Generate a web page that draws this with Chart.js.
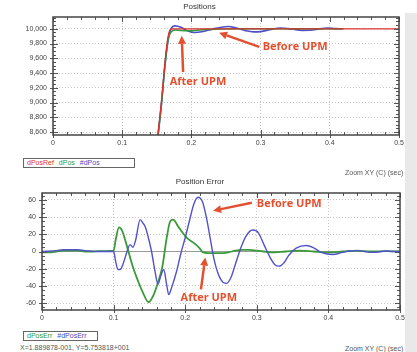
<!DOCTYPE html>
<html>
<head>
<meta charset="utf-8">
<script src="https://cdn.jsdelivr.net/npm/chart.js@4/dist/chart.umd.min.js"></script>
<style>
  html, body { margin: 0; padding: 0; background: #fff; }
  body { width: 417px; height: 352px; position: relative; overflow: hidden; font-family: "Liberation Sans", Arial, sans-serif; }
  .box { position: absolute; }
  .band { position: absolute; left: 405px; top: 13px; width: 12px; height: 339px; background: #e9e9e9; }
  .legend { position: absolute; border: 1px solid #666; background: #fff; font-size: 7px; line-height: 8px; white-space: nowrap; padding-left: 3px; box-sizing: border-box; }
  .legend span { margin-right: 5px; }
  .small { position: absolute; font-size: 7px; color: #555; white-space: nowrap; }
</style>
</head>
<body>
<div class="band"></div>
<div class="box" style="left:0;top:0;width:417px;height:152px"><canvas id="posChart"></canvas></div>
<div class="box" style="left:0;top:172px;width:417px;height:155px"><canvas id="errChart"></canvas></div>

<div class="legend" style="left:23px;top:158px;width:112px;height:10px">
  <span style="color:#d83030">dPosRef</span><span style="color:#2f9a3a">dPos</span><span style="color:#4848c0">#dPos</span>
</div>
<div class="small" style="left:345px;top:169px">Zoom XY (C) (sec)</div>
<div class="legend" style="left:23px;top:331px;width:75px;height:10px">
  <span style="color:#2f9a3a">dPosErr</span><span style="color:#4848c0">#dPosErr</span>
</div>
<div class="small" style="left:20px;top:344px">X=1.889878-001, Y=5.753818+001</div>
<div class="small" style="left:345px;top:345px">Zoom XY (C) (sec)</div>

<script>
// ---- Positions (top chart) ----
const posTimeRef = [0.13, 0.145, 0.152, 0.156, 0.159, 0.162, 0.165, 0.168, 0.171, 0.5];
const posRef = [6500, 7950, 8600, 8950, 9250, 9560, 9820, 9960, 10000, 10000];

const posTimeAfter = [0.13, 0.145, 0.152, 0.157, 0.162, 0.167, 0.171, 0.176, 0.185, 0.195, 0.205, 0.22, 0.24, 0.27, 0.42];
const posAfter = [6450, 7920, 8570, 9010, 9530, 9880, 9960, 9985, 9978, 9975, 9978, 9990, 9996, 10000, 10000];

const posTimeBefore = [0.13, 0.145, 0.152, 0.157, 0.162, 0.167, 0.171, 0.176, 0.185, 0.195, 0.205, 0.215, 0.23, 0.245,
  0.253, 0.265, 0.278, 0.29, 0.3, 0.315, 0.328, 0.345, 0.36, 0.372, 0.385, 0.396, 0.408, 0.418];
const posBefore = [6450, 7900, 8560, 9000, 9520, 9880, 10010, 10040, 10020, 9970, 9950, 9960, 9995, 10025,
  10031, 10010, 9975, 9958, 9962, 9990, 10010, 9998, 9978, 9980, 9998, 10010, 10003, 10000];

const posXTicks = [0, 0.1, 0.2, 0.3, 0.4, 0.5];
const posYTicks = [8600, 8800, 9000, 9200, 9400, 9600, 9800, 10000];

// ---- Position Error (bottom chart) ----
const errTimeAfter = [0, 0.01, 0.02, 0.03, 0.04, 0.05, 0.06, 0.07, 0.08, 0.09, 0.1, 0.103, 0.1075, 0.112, 0.118,
  0.127, 0.134, 0.14, 0.149, 0.155, 0.162, 0.168, 0.174, 0.179, 0.183, 0.191, 0.202, 0.212, 0.22, 0.225,
  0.24, 0.25, 0.26, 0.27, 0.28, 0.29, 0.3, 0.31, 0.32, 0.34, 0.36, 0.38, 0.4, 0.42, 0.44, 0.46, 0.48, 0.5];
const errAfter = [-1, -1, 0, 1, 1, 1, 0, 0, 0.5, 0.5, 1, 14, 28, 24, 8,
  -18, -34, -46, -59, -52, -36, -18, 15, 35, 37, 28, 16, 10, 4, -1,
  -2, -2, -1, 1, 2, 2, 1, 0, -1, 0, 1, 0, -1, 0, 1, 0, 0.5, 0];

const errTimeBefore = [0, 0.02, 0.03, 0.04, 0.05, 0.06, 0.08, 0.1, 0.103, 0.106, 0.109, 0.113, 0.118, 0.123, 0.127,
  0.131, 0.137, 0.141, 0.144, 0.148, 0.153, 0.158, 0.162, 0.166, 0.17, 0.174, 0.177, 0.181, 0.188, 0.194,
  0.2, 0.206, 0.212, 0.218, 0.224, 0.23, 0.235, 0.24, 0.247, 0.253, 0.258, 0.264, 0.27, 0.278, 0.285,
  0.294, 0.302, 0.31, 0.318, 0.325, 0.331, 0.338, 0.345, 0.355, 0.369, 0.38, 0.39, 0.406, 0.42, 0.43,
  0.44, 0.45, 0.46, 0.47, 0.48, 0.49, 0.5];
const errBefore = [0, 1, 2, 2, 2, 1, 0, 0, -12, -21, -21, -15, -2, 8, 5,
  14, 37, 33, 29, 18, 0, -24, -38, -28, -21, -38, -50, -42, -23, -2,
  16, 36, 55, 63, 58, 38, 15, -8, -28, -36, -37, -30, -15, 5, 18,
  25, 22, 8, -6, -15, -17, -13, -4, 4, 7, 4, -1, -3.5, -1, 0.5,
  1, 0, -1, -0.5, 0.5, 0, 0];

const errXTicks = [0, 0.1, 0.2, 0.3, 0.4, 0.5];
const errYTicks = [-60, -40, -20, 0, 20, 40, 60];

// ---- annotations (in data units) ----
const posNotes = [
  { text: 'After UPM', x: 0.2095, y: 9279, align: 'center' },
  { text: 'Before UPM', x: 0.303, y: 9755, align: 'left' }
];
const posArrows = [
  { from: [0.188, 9415], to: [0.186, 9905] },
  { from: [0.298, 9755], to: [0.240, 9946] }
];
const errNotes = [
  { text: 'Before UPM', x: 0.300, y: 55.5, align: 'left' },
  { text: 'After UPM', x: 0.233, y: -54.3, align: 'center' }
];
const errArrows = [
  { from: [0.293, 56.6], to: [0.239, 47.4] },
  { from: [0.222, -44], to: [0.228, -7] }
];

const zip = (xs, ys) => xs.map((x, i) => ({ x: x, y: ys[i] }));

// frame with minor ticks on all four sides
function makeFrame(xMinor, xMajor, yMinor, yMajor) {
  return {
    id: 'frame',
    afterDatasetsDraw(chart) {
      const { ctx, chartArea: a, scales: { x, y } } = chart;
      const isMajor = (v, m) => Math.abs(v / m - Math.round(v / m)) < 1e-6;
      ctx.save();
      ctx.strokeStyle = '#555';
      ctx.lineWidth = 1;
      ctx.beginPath();
      for (let i = 0; ; i++) {
        const v = x.min + i * xMinor;
        if (v > x.max + 1e-9) break;
        const px = Math.round(x.getPixelForValue(v)) + 0.5;
        const len = isMajor(v, xMajor) ? 5 : 3;
        ctx.moveTo(px, a.bottom); ctx.lineTo(px, a.bottom - len);
        ctx.moveTo(px, a.top); ctx.lineTo(px, a.top + len);
        if (isMajor(v, xMajor)) { ctx.moveTo(px, a.bottom); ctx.lineTo(px, a.bottom + 3); }
      }
      const start = Math.ceil(y.min / yMinor) * yMinor;
      for (let v = start; v <= y.max; v += yMinor) {
        const py = Math.round(y.getPixelForValue(v)) + 0.5;
        const len = isMajor(v, yMajor) ? 5 : 3;
        ctx.moveTo(a.left, py); ctx.lineTo(a.left + len, py);
        ctx.moveTo(a.right, py); ctx.lineTo(a.right - len, py);
        if (isMajor(v, yMajor)) { ctx.moveTo(a.left, py); ctx.lineTo(a.left - 3, py); }
      }
      ctx.stroke();
      ctx.lineWidth = 1.5;
      ctx.strokeStyle = '#444';
      ctx.strokeRect(a.left, a.top, a.right - a.left, a.bottom - a.top);
      ctx.restore();
    }
  };
}

// red arrows + labels
function makeNotes(notes, arrows) {
  return {
    id: 'notes',
    afterDraw(chart) {
      const { ctx, scales: { x, y } } = chart;
      const red = '#e2502f';
      ctx.save();
      ctx.fillStyle = red;
      ctx.strokeStyle = red;
      ctx.font = 'bold 11px "Open Sans", sans-serif';
      ctx.textBaseline = 'middle';
      notes.forEach(n => {
        ctx.textAlign = n.align;
        ctx.fillText(n.text, x.getPixelForValue(n.x), y.getPixelForValue(n.y));
      });
      arrows.forEach(ar => {
        const x0 = x.getPixelForValue(ar.from[0]), y0 = y.getPixelForValue(ar.from[1]);
        const x1 = x.getPixelForValue(ar.to[0]), y1 = y.getPixelForValue(ar.to[1]);
        const ang = Math.atan2(y1 - y0, x1 - x0);
        const head = 8, half = 4;
        const bx = x1 - head * Math.cos(ang), by = y1 - head * Math.sin(ang);
        ctx.lineWidth = 2.5;
        ctx.beginPath();
        ctx.moveTo(x0, y0);
        ctx.lineTo(bx, by);
        ctx.stroke();
        ctx.beginPath();
        ctx.moveTo(x1, y1);
        ctx.lineTo(bx + half * Math.sin(ang), by - half * Math.cos(ang));
        ctx.lineTo(bx - half * Math.sin(ang), by + half * Math.cos(ang));
        ctx.closePath();
        ctx.fill();
      });
      ctx.restore();
    }
  };
}

function lineSet(label, data, color, width) {
  return {
    label: label,
    data: data,
    borderColor: color,
    borderWidth: width,
    pointRadius: 0,
    fill: false,
    cubicInterpolationMode: 'monotone'
  };
}

function scaleOpts(min, max, ticks, fmt, isY, fitSize) {
  return {
    type: 'linear',
    min: min,
    max: max,
    afterBuildTicks: axis => { axis.ticks = ticks.map(v => ({ value: v })); },
    afterFit: scale => { if (isY) scale.width = fitSize; else scale.height = fitSize; },
    grid: {
      drawTicks: false,
      color: ctx => (ctx.tick && ctx.tick.value === 0 && isY) ? '#9a9a9a' : '#c4c4c4',
      lineWidth: 1
    },
    border: {
      display: false,
      dash: ctx => (ctx.tick && ctx.tick.value === 0 && isY) ? [] : [1, 2]
    },
    ticks: {
      padding: isY ? 6 : 4,
      color: '#444',
      font: { size: 7, family: '"Liberation Sans", Arial, sans-serif' },
      maxRotation: 0,
      callback: fmt
    }
  };
}

function titleOpts(text, top, bottom) {
  return {
    display: true,
    text: text,
    color: '#333',
    font: { size: 8, weight: 'normal', family: '"Liberation Sans", Arial, sans-serif' },
    padding: { top: top, bottom: bottom }
  };
}

Chart.defaults.animation = false;

new Chart(document.getElementById('posChart'), {
  type: 'line',
  data: {
    datasets: [
      lineSet('dPosRef', zip(posTimeRef, posRef), '#dc3030', 1.3),
      lineSet('dPos', zip(posTimeAfter, posAfter), '#2f9a3a', 1.5),
      lineSet('#dPos', zip(posTimeBefore, posBefore), '#4f4fc8', 1.6)
    ]
  },
  options: {
    responsive: true,
    maintainAspectRatio: false,
    layout: { padding: { left: 0, right: 18, top: 0, bottom: 0 } },
    scales: {
      x: scaleOpts(0, 0.5, posXTicks, v => String(v), false, 17),
      y: scaleOpts(8560, 10160, posYTicks, v => v.toLocaleString('en-US'), true, 53)
    },
    plugins: {
      legend: { display: false },
      tooltip: { enabled: false },
      title: titleOpts('Positions', 2.2, 5.2)
    }
  },
  plugins: [makeFrame(0.02, 0.1, 50, 200), makeNotes(posNotes, posArrows)]
});

new Chart(document.getElementById('errChart'), {
  type: 'line',
  data: {
    datasets: [
      lineSet('#dPosErr', zip(errTimeBefore, errBefore), '#5252c8', 1.4),
      lineSet('dPosErr', zip(errTimeAfter, errAfter), '#3a9a3a', 1.8)
    ]
  },
  options: {
    responsive: true,
    maintainAspectRatio: false,
    layout: { padding: { left: 0, right: 17, top: 0, bottom: 0 } },
    scales: {
      x: scaleOpts(0, 0.5, errXTicks, v => String(v), false, 17),
      y: scaleOpts(-68, 68, errYTicks, v => String(v), true, 42)
    },
    plugins: {
      legend: { display: false },
      tooltip: { enabled: false },
      title: titleOpts('Position Error', 5.4, 6)
    }
  },
  plugins: [makeFrame(0.02, 0.1, 5, 20), makeNotes(errNotes, errArrows)]
});
</script>
</body>
</html>
